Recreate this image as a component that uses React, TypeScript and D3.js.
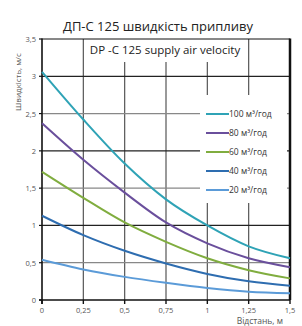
import React from "react";
import * as d3 from "d3";

const distances = [0, 0.25, 0.5, 0.75, 1, 1.25, 1.5];
const v100 = [3.06, 2.42, 1.83, 1.35, 1.0, 0.72, 0.56];
const v80 = [2.37, 1.88, 1.44, 1.04, 0.76, 0.56, 0.44];
const v60 = [1.72, 1.37, 1.04, 0.78, 0.56, 0.4, 0.29];
const v40 = [1.13, 0.87, 0.66, 0.49, 0.35, 0.25, 0.19];
const v20 = [0.54, 0.41, 0.31, 0.23, 0.16, 0.11, 0.09];
const seriesNames = ["100 м³/год", "80 м³/год", "60 м³/год", "40 м³/год", "20 м³/год"];
const seriesValues = [v100, v80, v60, v40, v20];
const colors = ["#2fa3b6", "#6a4f9c", "#80ad3f", "#2e6db0", "#5b9bd8"];
const xTicks = [0, 0.25, 0.5, 0.75, 1, 1.25, 1.5];
const yTicks = [0, 0.5, 1, 1.5, 2, 2.5, 3, 3.5];

const fmt = (v: number) => String(v).replace(".", ",");

export default function App() {
  const W = 302, H = 326;
  const x = d3.scaleLinear().domain([0, 1.5]).range([42, 290]);
  const y = d3.scaleLinear().domain([0, 3.5]).range([300, 39]);
  const line = d3
    .line<number>()
    .x((_, i) => x(distances[i]))
    .y((d) => y(d))
    .curve(d3.curveMonotoneX);
  const font = "'Open Sans', 'DejaVu Sans', sans-serif";
  return (
    <svg width={W} height={H} style={{ position: "absolute", left: 0, top: 0 }} fontFamily={font}>
      <rect width={W} height={H} fill="#fff" />
      {/* grid */}
      {xTicks.slice(1, -1).map((t) => (
        <line key={"vx" + t} x1={x(t)} x2={x(t)} y1={y(3.5)} y2={y(0)} stroke="#555" strokeWidth={1.2} />
      ))}
      {yTicks.slice(1, -1).map((t) => (
        <line
          key={"hy" + t}
          x1={x(0)}
          x2={x(1.5)}
          y1={y(t)}
          y2={y(t)}
          stroke={Number.isInteger(t) ? "#222" : "#888"}
          strokeWidth={1.2}
        />
      ))}
      {/* white boxes */}
      <rect x={85} y={39} width={161} height={23} fill="#fff" />
      <rect x={200} y={95} width={87} height={108} fill="#fff" />
      {/* frame */}
      <line x1={x(0)} x2={x(1.5)} y1={y(3.5)} y2={y(3.5)} stroke="#111" strokeWidth={1} />
      <line x1={x(1.5)} x2={x(1.5)} y1={y(3.5) - 0.5} y2={y(0)} stroke="#111" strokeWidth={2.5} />
      <line x1={x(0)} x2={x(0)} y1={y(3.5) - 0.5} y2={y(0) + 4} stroke="#111" strokeWidth={1.6} />
      <line x1={x(0) - 3} x2={x(1.5)} y1={y(0)} y2={y(0)} stroke="#111" strokeWidth={1.6} />
      {xTicks.map((t) => (
        <line key={"tx" + t} x1={x(t)} x2={x(t)} y1={y(0)} y2={y(0) + 4} stroke="#111" strokeWidth={1.4} />
      ))}
      {yTicks.map((t) => (
        <line key={"ty" + t} x1={x(0) - 3} x2={x(0)} y1={y(t)} y2={y(t)} stroke="#111" strokeWidth={1.2} />
      ))}
      {/* tick labels */}
      {yTicks.map((t) => (
        <text key={"ly" + t} x={36} y={y(t) + 3} fontSize={7.5} fill="#555" textAnchor="end">
          {fmt(t)}
        </text>
      ))}
      {xTicks.map((t) => (
        <text key={"lx" + t} x={x(t)} y={313} fontSize={7.5} fill="#555" textAnchor="middle">
          {fmt(t)}
        </text>
      ))}
      {/* curves */}
      {seriesValues.map((vals, i) => (
        <path key={"s" + i} d={line(vals) || ""} fill="none" stroke={colors[i]} strokeWidth={2} />
      ))}
      {/* legend */}
      {seriesNames.map((n, i) => (
        <g key={"lg" + i} transform={`translate(0,${114 + i * 19})`}>
          <line x1={206} x2={229} y1={0} y2={0} stroke={colors[i]} strokeWidth={2} />
          <text x={229} y={3} fontSize={8.5} fill="#333">
            {n}
          </text>
        </g>
      ))}
      {/* titles */}
      <text x={158} y={31} fontSize={13} fill="#222" textAnchor="middle">
        ДП-С 125 швидкість припливу
      </text>
      <text x={165} y={54} fontSize={11.5} fill="#222" textAnchor="middle">
        DP -C 125 supply air velocity
      </text>
      <text
        transform={`translate(21,82) rotate(-90)`}
        fontSize={8}
        fill="#555"
        textAnchor="middle"
      >
        Швидкість, м/с
      </text>
      <text x={283} y={324} fontSize={8.5} fill="#555" textAnchor="end">
        Відстань, м
      </text>
    </svg>
  );
}
